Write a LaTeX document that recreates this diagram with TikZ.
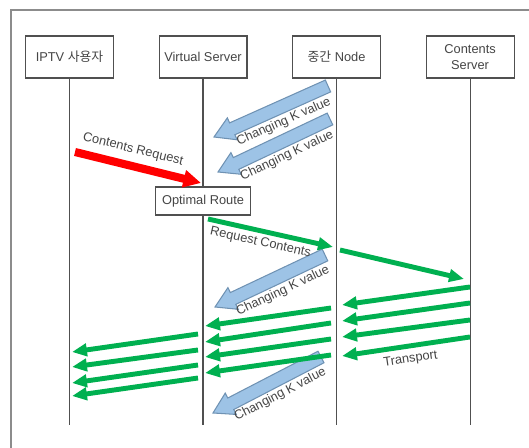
\documentclass[tikz,border=0pt]{standalone}
\usepackage{fontspec}
\setmainfont{Liberation Sans}
\newfontfamily\coreen{Noto Sans CJK KR}
\usepackage{xcolor}
\usetikzlibrary{arrows.meta, positioning, calc}
\definecolor{trait}{HTML}{505050}
\definecolor{texte}{HTML}{454545}
\definecolor{cadregris}{HTML}{8C8C8C}
\definecolor{vert}{HTML}{00B050}
\definecolor{rouge}{HTML}{FF0000}
\definecolor{bleuclair}{HTML}{9DC3E6}
\definecolor{bleubord}{HTML}{6F92B3}
\tikzset{
  entete/.style={rectangle, draw=trait, fill=white, text=texte,
    font=\fontsize{7.3}{8.8}\selectfont, minimum height=8.4mm,
    minimum width=17.6mm, align=center, inner sep=1mm, line width=0.6pt},
  chemin/.style={entete, minimum height=5.6mm, minimum width=19mm},
  vie/.style={draw=trait, line width=0.6pt},
  flecheverte/.style={-{Triangle[length=8.5pt, width=7pt]}, line width=2.8pt, draw=vert},
  flecherouge/.style={-{Triangle[length=10pt, width=9.5pt]}, line width=4.6pt, draw=rouge},
  flechebleue/.style={draw=bleubord, fill=bleuclair, line width=0.6pt, line join=miter},
  etiquette/.style={font=\fontsize{7.3}{8.8}\selectfont, text=texte, inner sep=0.5pt, sloped},
  cadre/.style={draw=cadregris, line width=0.9pt}
}
% fleche large a contour (valeur K)
\newcommand{\flechek}[2]{%
  \path ($(#2)!0.4cm!(#1)$) coordinate (hb);
  \filldraw[flechebleue] ($(#1)!0.13cm!90:(#2)$) -- ($(hb)!0.13cm!90:(#2)$)
    -- ($(hb)!0.24cm!90:(#2)$) -- (#2) -- ($(hb)!0.24cm!-90:(#2)$)
    -- ($(hb)!0.13cm!-90:(#2)$) -- ($(#1)!0.13cm!-90:(#2)$) -- cycle;
}
\begin{document}
\begin{tikzpicture}[x=0.02cm, y=-0.02cm, node distance=8.9mm]
    \useasboundingbox (0,0) rectangle (529,448);
    \draw[cadre] (11,448) -- (11,10) -- (529,10);

    \node[entete] (usager) at (69.5,57) {IPTV {\coreen 사용자}};
    \node[entete, right=of usager] (serveurv) {Virtual Server};
    \node[entete, right=of serveurv] (noeud) {{\coreen 중간} Node};
    \node[entete, right=of noeud] (serveurc) {Contents\\Server};

    \coordinate (bas) at (0,425);
    \foreach \n in {usager, serveurv, noeud, serveurc}
      \draw[vie] (\n.south) -- (\n.south |- bas);

    \node[chemin, below=21.6mm of serveurv] (route) {Optimal Route};

    % mises a jour de la valeur K
    \coordinate (k1a) at (328,86);  \coordinate (k1b) at (214,137);
    \coordinate (k2a) at (330,119); \coordinate (k2b) at (218,172);
    \coordinate (k3a) at (325,255); \coordinate (k3b) at (215,307);
    \coordinate (k4a) at (321,357); \coordinate (k4b) at (213,413);
    \foreach \k in {1,...,4} {
      \flechek{k\k a}{k\k b}
      \path (k\k a) -- node[etiquette, below=0.15cm, pos=0.44] {Changing K value} (k\k b);
    }

    \coordinate (req1) at (75,152);  \coordinate (req2) at (201,183);
    \draw[flecherouge] (req1) -- node[etiquette, above=0.11cm, pos=0.43] {Contents Request} (req2);

    \coordinate (rc1) at (208,219); \coordinate (rc2) at (333,247);
    \coordinate (rc3) at (340,250); \coordinate (rc4) at (464,279);
    \draw[flecheverte] (rc1) -- node[etiquette, below=0.05cm, pos=0.44] {Request Contents} (rc2);
    \draw[flecheverte] (rc3) -- (rc4);

    % retour des contenus
    \foreach \ya/\yb [count=\i] in {287/305, 303/321, 320/337, 337/356} {
      \coordinate (cs\i) at (470,\ya); \coordinate (nd\i) at (342,\yb);
      \draw[flecheverte] (cs\i) -- (nd\i);
    }
    \path (cs4) -- node[etiquette, below=0.13cm, pos=0.48] {Transport} (nd4);
    \foreach \ya/\yb [count=\i] in {308/326, 323/342, 339/357, 355/373} {
      \coordinate (nv\i) at (331,\ya); \coordinate (vs\i) at (205,\yb);
      \draw[flecheverte] (nv\i) -- (vs\i);
    }
    \foreach \ya/\yb [count=\i] in {334/352, 350/367, 365/383, 378/396} {
      \coordinate (vu\i) at (198,\ya); \coordinate (us\i) at (72,\yb);
      \draw[flecheverte] (vu\i) -- (us\i);
    }
\end{tikzpicture}
\end{document}
